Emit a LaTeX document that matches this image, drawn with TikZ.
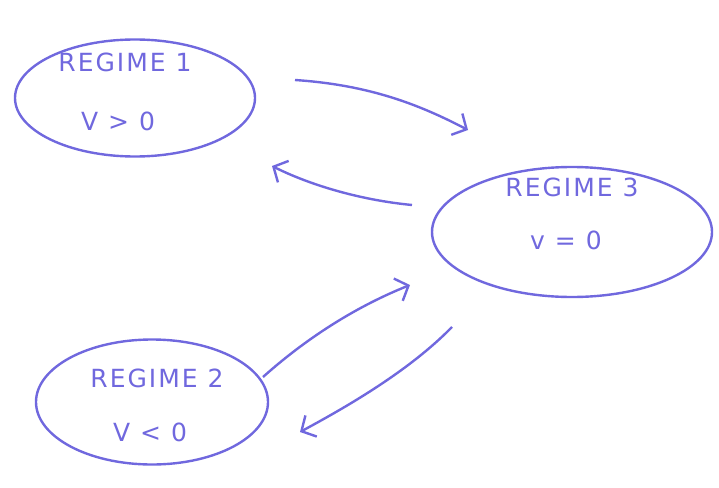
\documentclass[tikz,border=0pt]{standalone}
\usepackage{fontspec}
\setmainfont{DejaVu Sans}
\usetikzlibrary{arrows.meta,shapes.geometric}
\definecolor{pen}{RGB}{112,104,222}
\tikzset{
  regime/.style={draw=pen, line width=2.4pt, ellipse, inner sep=0pt},
  lbl/.style={text=pen, font=\fontsize{25}{28}\selectfont\addfontfeature{LetterSpace=8}},
  conn/.style={draw=pen, line width=2.4pt, -{Straight Barb[length=11pt,width=24pt,line width=2.4pt]}}
}
\begin{document}
\begin{tikzpicture}[x=1pt,y=-1pt]
\useasboundingbox (0,0) rectangle (719,487);
% ellipses
\node[regime, minimum width=240pt, minimum height=117pt] (r1) at (135,98) {};
\node[regime, minimum width=280pt, minimum height=130pt] (r3) at (572,232) {};
\node[regime, minimum width=232pt, minimum height=125pt] (r2) at (152,402) {};
% labels
\node[lbl] (t1) at (125,62) {REGIME 1};
\node[lbl] (v1) at (118,121) {V > 0};
\node[lbl] (t3) at (572,187) {REGIME 3};
\node[lbl] (v3) at (566,240) {v = 0};
\node[lbl] (t2) at (157,378) {REGIME 2};
\node[lbl] (v2) at (150,432) {V < 0};
% connector ends
\coordinate (a1s) at (295,80);
\coordinate (a1e) at (468,130);
\coordinate (a2s) at (412,205);
\coordinate (a2e) at (272,166);
\coordinate (a3s) at (263,377);
\coordinate (a3e) at (410,285);
\coordinate (a4s) at (452,327);
\coordinate (a4e) at (300,432);
% connectors
\draw[conn] (a1s) .. controls (370,85) and (420,105) .. (a1e);
\draw[conn] (a2s) .. controls (360,200) and (310,185) .. (a2e);
\draw[conn] (a3s) .. controls (310,335) and (360,305) .. (a3e);
\draw[conn] (a4s) .. controls (410,370) and (350,405) .. (a4e);
\end{tikzpicture}
\end{document}
